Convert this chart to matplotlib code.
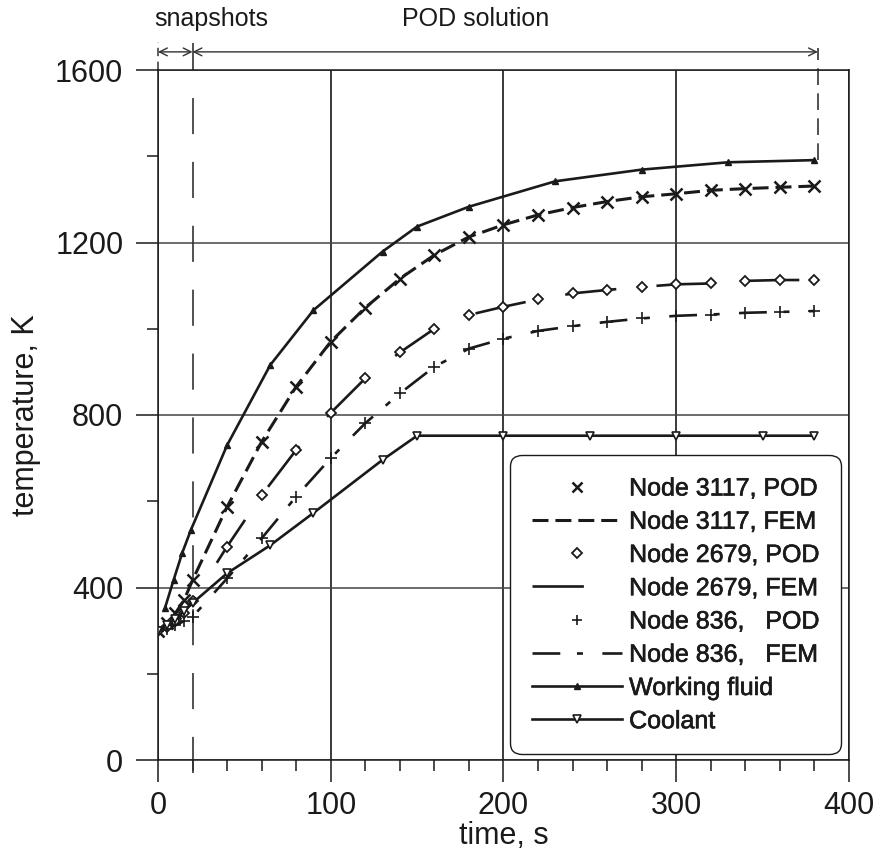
import matplotlib

matplotlib.use('Agg')

import matplotlib.pyplot as plt
import matplotlib.patheffects as pe
from matplotlib.ticker import MultipleLocator

plt.rcParams['font.family'] = ['Liberation Sans', 'DejaVu Sans']
plt.rcParams['lines.scale_dashes'] = False

# ---- data ----
t_nodes = [0, 5, 10, 15, 20, 40, 60, 80, 100, 120, 140, 160, 180, 200,
           220, 240, 260, 280, 300, 320, 340, 360, 380]
T_3117 = [300, 318, 340, 370, 417, 587, 738, 866, 970, 1049, 1116, 1171, 1213,
          1241, 1264, 1281, 1295, 1306, 1313, 1321, 1325, 1328, 1331]
T_2679 = [300, 308, 322, 342, 368, 495, 614, 719, 805, 885, 945, 1000, 1032,
          1051, 1068, 1082, 1090, 1097, 1103, 1105, 1111, 1113, 1113]
T_836 = [300, 304, 312, 322, 332, 421, 514, 611, 700, 781, 850, 912, 954,
         977, 995, 1006, 1016, 1024, 1030, 1033, 1037, 1039, 1041]

t_fluid = [4, 9, 14, 19, 40, 65, 90, 130, 150, 180, 230, 280, 330, 380]
T_fluid = [352, 417, 480, 533, 730, 916, 1043, 1179, 1237, 1283, 1342, 1369,
           1386, 1391]

t_coolant = [0, 5, 10, 15, 20, 40, 65, 90, 130, 150, 200, 250, 300, 350, 380]
T_coolant = [300, 312, 326, 345, 364, 433, 498, 573, 696, 752, 752, 752, 752,
             752, 752]

t_snap_end = 20
t_pod_end = 382

legend_labels = ['Node 3117, POD', 'Node 3117, FEM', 'Node 2679, POD',
                 'Node 2679, FEM', 'Node 836,   POD', 'Node 836,   FEM',
                 'Working fluid', 'Coolant']

ink = '#1a1a1a'

# ---- figure ----
fig = plt.figure(figsize=(8.77, 8.64), dpi=100)
ax = fig.add_axes([158 / 877, 1 - 760 / 864, 691 / 877, 690 / 864])
ax.set_xlim(0, 400)
ax.set_ylim(0, 1600)

# FEM lines
l3117, = ax.plot(t_nodes, T_3117, color=ink, lw=2.2, dashes=(11.5, 5))
l2679, = ax.plot(t_nodes, T_2679, color=ink, lw=1.9, dashes=(37, 29))
l836, = ax.plot(t_nodes, T_836, color=ink, lw=1.9, dashes=(20, 12, 4.3, 14))

# POD markers
m3117, = ax.plot(t_nodes, T_3117, ls='none', marker='x', ms=8, mew=1.8,
                 color=ink)
m2679, = ax.plot(t_nodes, T_2679, ls='none', marker='D', ms=5.5, mew=1.3,
                 mfc='white', color=ink)
m836, = ax.plot(t_nodes, T_836, ls='none', marker='+', ms=9, mew=1.2,
                color=ink)

wf, = ax.plot(t_fluid, T_fluid, color=ink, lw=1.9, marker='^', ms=5)
cool, = ax.plot(t_coolant, T_coolant, color=ink, lw=1.9, marker='v',
                ms=6, mfc='white', mew=1.2)

# axes styling
ax.xaxis.set_major_locator(MultipleLocator(100))
ax.xaxis.set_minor_locator(MultipleLocator(20))
ax.yaxis.set_major_locator(MultipleLocator(400))
ax.yaxis.set_minor_locator(MultipleLocator(200))
ax.tick_params(which='major', length=16, width=1.1, labelsize=22, pad=6,
               color=ink, labelcolor=ink)
ax.tick_params(which='minor', length=8, width=1.1, color=ink)
ax.tick_params(axis='y', which='major', pad=9)
ax.grid(axis='x', which='major', color=ink, lw=1.2)
ax.grid(axis='y', which='major', color='#444444', lw=1.1)
ax.set_axisbelow(True)
for s in ax.spines.values():
    s.set_linewidth(1.1)
    s.set_color(ink)

ax.set_xlabel('time, s', fontsize=22, labelpad=0, color=ink)
ax.set_ylabel('temperature, K', fontsize=22, labelpad=10, color=ink)

# snapshot / POD markers above the plot
ax.plot([t_snap_end, t_snap_end], [-30, 1662], color='#333333', lw=1.2,
        dashes=(26, 20), clip_on=False, zorder=1)
ax.plot([0, 0], [1600, 1665], color='#333333', lw=1.1, dashes=(6, 4),
        clip_on=False)
ax.plot([t_pod_end, t_pod_end], [1391, 1650], color='#333333', lw=1.2,
        dashes=(12, 6), clip_on=False)
arrow = dict(arrowstyle='<->', lw=1.0, color='#333333', shrinkA=0, shrinkB=0,
             mutation_scale=14)
ax.annotate('', xy=(0, 1642), xytext=(t_snap_end, 1642), arrowprops=arrow,
            annotation_clip=False)
ax.annotate('', xy=(t_snap_end, 1642), xytext=(t_pod_end, 1642),
            arrowprops=arrow, annotation_clip=False)
ax.text(31, 1718, 'snapshots', ha='center', va='center', fontsize=18,
        color=ink)
ax.text(184, 1718, 'POD solution', ha='center', va='center', fontsize=18,
        color=ink)

# legend
h = [m3117, l3117, m2679, l2679, m836, l836, wf, cool]
leg = ax.legend(h, legend_labels, loc='lower right',
                bbox_to_anchor=(0.988, 0.008), borderaxespad=0,
                fontsize=18, handlelength=3.6, handletextpad=0.3,
                labelspacing=0.37, borderpad=0.85, fancybox=True,
                framealpha=1, edgecolor=ink, markerscale=0.85)
leg.get_frame().set_linewidth(1.0)
leg.get_frame().set_boxstyle('round', pad=0, rounding_size=0.45)
for t in leg.get_texts():
    t.set_color(ink)
    t.set_path_effects([pe.withStroke(linewidth=0.45, foreground=ink)])

fig.savefig('out.png', dpi=100)
